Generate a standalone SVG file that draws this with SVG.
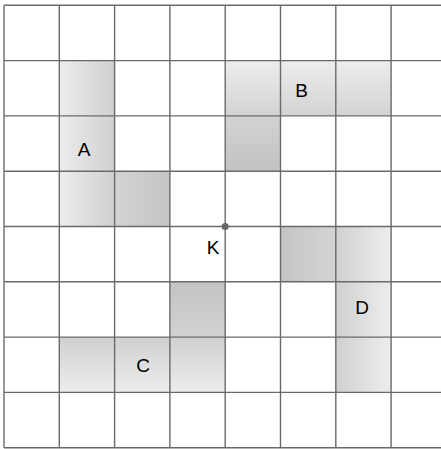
<svg xmlns="http://www.w3.org/2000/svg" width="441" height="449" viewBox="0 0 441 449">
<style>
.lbl{font-family:"Liberation Sans",Arial,sans-serif;font-size:19px;fill:#000;text-anchor:middle}
.grid line{stroke:#6a6a6a;stroke-width:1.4}
</style>
<defs>
<linearGradient id="gH" x1="0" y1="0" x2="1" y2="0"><stop offset="0" stop-color="#ededed"/><stop offset="1" stop-color="#d0d0d0"/></linearGradient>
<linearGradient id="gHd" x1="0" y1="0" x2="1" y2="0"><stop offset="0" stop-color="#d2d2d2"/><stop offset="1" stop-color="#c4c4c4"/></linearGradient>
<linearGradient id="gV" x1="0" y1="0" x2="0" y2="1"><stop offset="0" stop-color="#ededed"/><stop offset="1" stop-color="#d3d3d3"/></linearGradient>
<linearGradient id="gVd" x1="0" y1="0" x2="0" y2="1"><stop offset="0" stop-color="#d2d2d2"/><stop offset="1" stop-color="#c3c3c3"/></linearGradient>
<linearGradient id="gVr" x1="0" y1="0" x2="0" y2="1"><stop offset="0" stop-color="#d0d0d0"/><stop offset="1" stop-color="#ededed"/></linearGradient>
<linearGradient id="gVrd" x1="0" y1="0" x2="0" y2="1"><stop offset="0" stop-color="#c3c3c3"/><stop offset="1" stop-color="#d2d2d2"/></linearGradient>
<linearGradient id="gHr" x1="0" y1="0" x2="1" y2="0"><stop offset="0" stop-color="#d0d0d0"/><stop offset="1" stop-color="#ededed"/></linearGradient>
<linearGradient id="gHrd" x1="0" y1="0" x2="1" y2="0"><stop offset="0" stop-color="#c4c4c4"/><stop offset="1" stop-color="#d4d4d4"/></linearGradient>
</defs>
<rect x="0" y="0" width="441" height="449" fill="#fff"/>
<g id="A">
<rect x="59.3" y="60.6" width="55.3" height="165.9" fill="url(#gH)"/>
<rect x="114.6" y="171.2" width="55.3" height="55.3" fill="url(#gHd)"/>
<text class="lbl" x="84" y="156">A</text>
</g>
<g id="B">
<rect x="225.2" y="60.6" width="165.9" height="55.3" fill="url(#gV)"/>
<rect x="225.2" y="115.9" width="55.3" height="55.3" fill="url(#gVd)"/>
<text class="lbl" x="301.5" y="97">B</text>
</g>
<g id="C">
<rect x="59.3" y="337.1" width="165.9" height="55.3" fill="url(#gVr)"/>
<rect x="169.9" y="281.8" width="55.3" height="55.3" fill="url(#gVrd)"/>
<text class="lbl" x="143" y="372">C</text>
</g>
<g id="D">
<rect x="335.8" y="226.5" width="55.3" height="165.9" fill="url(#gHr)"/>
<rect x="280.5" y="226.5" width="55.3" height="55.3" fill="url(#gHrd)"/>
<text class="lbl" x="362" y="314">D</text>
</g>
<g class="grid" id="grid">
<line x1="4" y1="5.3" x2="4" y2="447.7"/>
<line x1="59.3" y1="5.3" x2="59.3" y2="447.7"/>
<line x1="114.6" y1="5.3" x2="114.6" y2="447.7"/>
<line x1="169.9" y1="5.3" x2="169.9" y2="447.7"/>
<line x1="225.2" y1="5.3" x2="225.2" y2="447.7"/>
<line x1="280.5" y1="5.3" x2="280.5" y2="447.7"/>
<line x1="335.8" y1="5.3" x2="335.8" y2="447.7"/>
<line x1="391.1" y1="5.3" x2="391.1" y2="447.7"/>
<line x1="4" y1="5.3" x2="441" y2="5.3"/>
<line x1="4" y1="60.6" x2="441" y2="60.6"/>
<line x1="4" y1="115.9" x2="441" y2="115.9"/>
<line x1="4" y1="171.2" x2="441" y2="171.2"/>
<line x1="4" y1="226.5" x2="441" y2="226.5"/>
<line x1="4" y1="281.8" x2="441" y2="281.8"/>
<line x1="4" y1="337.1" x2="441" y2="337.1"/>
<line x1="4" y1="392.4" x2="441" y2="392.4"/>
<line x1="4" y1="447.7" x2="441" y2="447.7"/>
</g>
<g id="K">
<circle cx="225.2" cy="226.5" r="3.5" fill="#666"/>
<text class="lbl" x="213" y="254">K</text>
</g>
</svg>
